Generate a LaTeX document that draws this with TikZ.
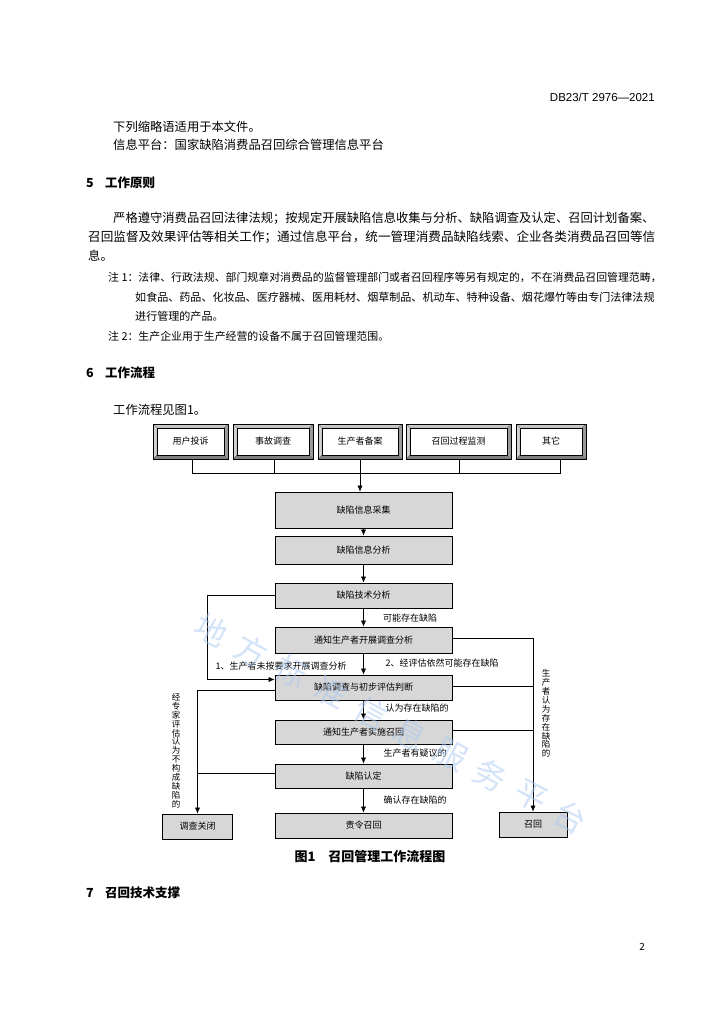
\documentclass[tikz,border=0pt]{standalone}
\usepackage{fontspec}
\setmainfont{Noto Sans CJK SC}
\newfontfamily\cjk{Noto Sans CJK SC}
\newfontfamily\latn{Liberation Sans}
\usetikzlibrary{arrows.meta,calc}
\definecolor{boxgray}{RGB}{215,215,215}
\definecolor{bevlight}{RGB}{200,200,200}
\definecolor{bevdark}{RGB}{130,130,130}
\definecolor{wmblue}{RGB}{170,200,240}
\begin{document}
\begin{tikzpicture}[x=1pt,y=-1pt,
  ln/.style={draw=black,line width=0.6pt},
  arr/.style={ln,-{Latex[length=6pt,width=5pt]}},
  flowbox/.style={draw=black,line width=0.7pt,fill=boxgray,inner sep=0pt,
     minimum width=177pt,font=\cjk\fontsize{9}{10}\selectfont},
  endbox/.style={flowbox,minimum height=25pt},
  bevelbox/.style={draw=black,line width=0.6pt,fill=white,inner sep=0pt,
     minimum height=35pt,font=\cjk\fontsize{9}{10}\selectfont,
     path picture={
       \coordinate (bnw) at (path picture bounding box.north west);
       \coordinate (bne) at (path picture bounding box.north east);
       \coordinate (bsw) at (path picture bounding box.south west);
       \coordinate (bse) at (path picture bounding box.south east);
       \filldraw[fill=bevlight,draw=black!60,line width=0.3pt] (bnw) -- (bne) -- ([shift={(-4pt,-4pt)}]bne) -- ([shift={(4pt,-4pt)}]bnw) -- cycle;
       \filldraw[fill=bevlight!80,draw=black!60,line width=0.3pt] (bnw) -- (bsw) -- ([shift={(4pt,4pt)}]bsw) -- ([shift={(4pt,-4pt)}]bnw) -- cycle;
       \filldraw[fill=bevdark,draw=black!60,line width=0.3pt] (bsw) -- (bse) -- ([shift={(-4pt,4pt)}]bse) -- ([shift={(4pt,4pt)}]bsw) -- cycle;
       \filldraw[fill=bevdark!80,draw=black!60,line width=0.3pt] (bne) -- (bse) -- ([shift={(-4pt,4pt)}]bse) -- ([shift={(-4pt,-4pt)}]bne) -- cycle;
       \filldraw[fill=white,draw=black,line width=0.6pt] ([shift={(4pt,-4pt)}]bnw) rectangle ([shift={(-4pt,4pt)}]bse);
     }},
  lab/.style={inner sep=0pt,font=\cjk\fontsize{9}{10}\selectfont},
  vlab/.style={inner sep=0pt,align=center,font=\cjk\fontsize{8.5}{8.9}\selectfont},
  body/.style={anchor=west,inner sep=0pt,font=\cjk\fontsize{12.3}{14}\selectfont},
  note/.style={anchor=west,inner sep=0pt,font=\cjk\fontsize{10.9}{12}\selectfont},
  head/.style={anchor=west,inner sep=0pt,font=\cjk\bfseries\fontsize{12.5}{14}\selectfont}
]
\useasboundingbox (0,0) rectangle (724,1024);
\fill[white] (0,0) rectangle (724,1024);

% header and text
\node[anchor=east,inner sep=0pt,font=\latn\fontsize{11.5}{13}\selectfont] (hdr) at (655,97) {DB23/T 2976—2021};
\node[body] (t1) at (113,127) {下列缩略语适用于本文件。};
\node[body] (t2) at (113,145) {信息平台：国家缺陷消费品召回综合管理信息平台};
\node[head] (h5n) at (86,183) {5};
\node[head] (h5) at (105,183) {工作原则};
\node[body] (p1) at (113,218) {严格遵守消费品召回法律法规；按规定开展缺陷信息收集与分析、缺陷调查及认定、召回计划备案、};
\node[body,font=\cjk\fontsize{12.6}{14}\selectfont] (p2) at (88,237) {召回监督及效果评估等相关工作；通过信息平台，统一管理消费品缺陷线索、企业各类消费品召回等信};
\node[body] (p3) at (88,256) {息。};
\node[note] (n1) at (108,277) {注 1：法律、行政法规、部门规章对消费品的监督管理部门或者召回程序等另有规定的，不在消费品召回管理范畴，};
\node[note,font=\cjk\fontsize{11.05}{12}\selectfont] (n2) at (135,297) {如食品、药品、化妆品、医疗器械、医用耗材、烟草制品、机动车、特种设备、烟花爆竹等由专门法律法规};
\node[note,font=\cjk\fontsize{11.05}{12}\selectfont] (n3) at (135,316) {进行管理的产品。};
\node[note] (n4) at (108,336) {注 2：生产企业用于生产经营的设备不属于召回管理范围。};
\node[head] (h6n) at (86,373) {6};
\node[head] (h6) at (105,373) {工作流程};
\node[body] (t3) at (113,410) {工作流程见图1。};

% source boxes
\node[bevelbox,minimum width=75pt] (s1) at (190.5,441.5) {用户投诉};
\node[bevelbox,minimum width=80pt] (s2) at (273,441.5) {事故调查};
\node[bevelbox,minimum width=84pt] (s3) at (360,441.5) {生产者备案};
\node[bevelbox,minimum width=105pt] (s4) at (458.5,441.5) {召回过程监测};
\node[bevelbox,minimum width=70pt] (s5) at (551,441.5) {其它};

% main flow boxes
\node[flowbox,minimum height=36pt] (c1) at (363.5,510) {缺陷信息采集};
\node[flowbox,minimum height=28pt] (c2) at (363.5,550) {缺陷信息分析};
\node[flowbox,minimum height=25pt] (c3) at (363.5,595.5) {缺陷技术分析};
\node[flowbox,minimum height=26pt] (c4) at (363.5,640) {通知生产者开展调查分析};
\node[flowbox,minimum height=25pt] (c5) at (363.5,687.5) {缺陷调查与初步评估判断};
\node[flowbox,minimum height=24pt] (c6) at (363.5,732) {通知生产者实施召回};
\node[flowbox,minimum height=24pt] (c7) at (363.5,776) {缺陷认定};
\node[endbox] (c8) at (363.5,825.5) {责令召回};
\node[endbox,minimum width=70pt] (cls) at (197.5,826.5) {调查关闭};
\node[endbox,minimum width=68pt] (rec) at (533,824.5) {召回};

% top bus
\draw[ln] ([xshift=1.5pt]s1.south) -- ++(0,14) -| ([xshift=9pt]s5.south);
\draw[ln] ([xshift=1pt]s2.south) -- ++(0,14);
\draw[ln] ([xshift=0.5pt]s4.south) -- ++(0,14);
\draw[arr] (s3.south) -- (s3.south |- c1.north);

% main arrows
\draw[arr] (c1.south) -- (c2.north);
\draw[arr] (c2.south) -- (c3.north);
\draw[arr] (c3.south) -- (c4.north);
\draw[arr] (c4.south) -- (c5.north);
\draw[arr] (c5.south) -- (c6.north);
\draw[arr] (c6.south) -- (c7.north);
\draw[arr] (c7.south) -- (c8.north);

% left loops
\draw[arr] (c3.west) -- ++(-67,0) |- ([yshift=8pt]c5.west);
\draw[arr] ([yshift=-2.5pt]c5.west) -| (cls.north);
\draw[ln] ([yshift=3pt]c7.west) -- ([yshift=3pt]c7.west -| cls.north);

% right loops
\draw[arr] ([yshift=2pt]c4.east) -| (rec.north);
\draw[ln] ([yshift=1.5pt]c5.east) -- ([yshift=1.5pt]c5.east -| rec.north);
\draw[ln] ([yshift=2pt]c6.east) -- ([yshift=2pt]c6.east -| rec.north);

% labels
\node[lab] (l1) at (410,618) {可能存在缺陷};
\node[lab] (l2) at (281,666) {1、生产者未按要求开展调查分析};
\node[lab] (l3) at (442,663) {2、经评估依然可能存在缺陷};
\node[lab] (l4) at (417,708) {认为存在缺陷的};
\node[lab] (l5) at (415,753) {生产者有疑议的};
\node[lab] (l6) at (415,800) {确认存在缺陷的};
\node[vlab] (vl) at (176,750.5) {经\\专\\家\\评\\估\\认\\为\\不\\构\\成\\缺\\陷\\的};
\node[vlab] (vr) at (546,713.5) {生\\产\\者\\认\\为\\存\\在\\缺\\陷\\的};

% caption and following text
\node[inner sep=0pt,font=\cjk\bfseries\fontsize{13}{15}\selectfont] (cap) at (370,856) {图1\hspace{1em}召回管理工作流程图};
\node[head] (h7n) at (86,893) {7};
\node[head] (h7) at (105,893) {召回技术支撑};
\node[anchor=east,inner sep=0pt,font=\cjk\fontsize{10}{12}\selectfont] (pg) at (645,947) {2};

% watermark
\foreach \c [count=\i from 0] in {地,方,标,准,信,息,服,务,平,台}{
  \node[inner sep=0pt,text=wmblue,opacity=0.5,rotate=-28,font=\cjk\fontsize{32}{34}\selectfont]
    (wm\i) at ({212+\i*39.8},{630+\i*20.8}) {\c};
}
\end{tikzpicture}
\end{document}
